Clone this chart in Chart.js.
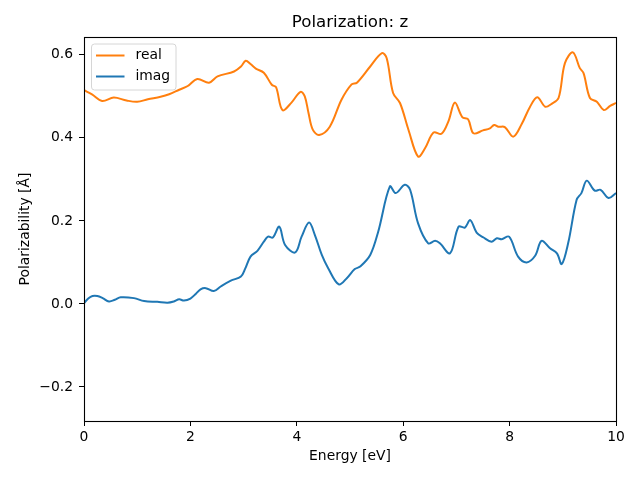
<!DOCTYPE html>
<html>
<head>
<meta charset="utf-8">
<script src="https://cdn.jsdelivr.net/npm/chart.js@4"></script>
<style>
  html, body { margin: 0; padding: 0; background: #fff; }
  #wrap { width: 640px; height: 480px; }
</style>
</head>
<body>
<div id="wrap"><canvas id="c" width="640" height="480"></canvas></div>
<script>
const titleText = 'Polarization: z';
const xLabel = 'Energy [eV]';
const yLabel = 'Polarizability [Å]';
const seriesNames = ['real', 'imag'];
const xTicks = [0, 2, 4, 6, 8, 10];
const yTicks = [-0.2, 0.0, 0.2, 0.4, 0.6];

const realE = [0, 0.15, 0.34, 0.56, 0.8, 1.0, 1.2, 1.44, 1.6, 1.79, 1.95, 2.13, 2.35, 2.51, 2.82, 2.95, 3.04, 3.13, 3.23, 3.38, 3.53, 3.61, 3.73, 3.9, 4.07, 4.15, 4.22, 4.3, 4.42, 4.62, 4.84, 5.03, 5.13, 5.38, 5.6, 5.69, 5.81, 5.94, 6.1, 6.28, 6.41, 6.57, 6.72, 6.85, 6.97, 7.11, 7.22, 7.32, 7.5, 7.63, 7.71, 7.79, 7.91, 8.07, 8.23, 8.38, 8.52, 8.67, 8.79, 8.92, 9.04, 9.19, 9.32, 9.39, 9.51, 9.64, 9.77, 9.89, 10.0];
const realV = [0.515, 0.505, 0.489, 0.497, 0.49, 0.487, 0.493, 0.499, 0.505, 0.516, 0.525, 0.542, 0.533, 0.548, 0.56, 0.572, 0.586, 0.578, 0.567, 0.557, 0.528, 0.522, 0.467, 0.485, 0.511, 0.5, 0.46, 0.42, 0.407, 0.427, 0.492, 0.529, 0.533, 0.572, 0.604, 0.592, 0.508, 0.484, 0.419, 0.355, 0.375, 0.413, 0.41, 0.44, 0.485, 0.45, 0.445, 0.411, 0.418, 0.423, 0.431, 0.427, 0.426, 0.403, 0.434, 0.474, 0.498, 0.475, 0.482, 0.496, 0.58, 0.606, 0.568, 0.556, 0.496, 0.487, 0.467, 0.477, 0.484];

const imagE = [0, 0.08, 0.16, 0.25, 0.35, 0.47, 0.58, 0.69, 0.94, 1.13, 1.38, 1.57, 1.69, 1.79, 1.88, 2.0, 2.1, 2.19, 2.29, 2.44, 2.57, 2.76, 2.95, 3.03, 3.13, 3.26, 3.38, 3.46, 3.55, 3.67, 3.78, 3.97, 4.09, 4.23, 4.34, 4.47, 4.59, 4.79, 4.94, 5.09, 5.19, 5.38, 5.53, 5.75, 5.86, 6.03, 6.13, 6.28, 6.47, 6.6, 6.69, 6.88, 7.04, 7.16, 7.26, 7.38, 7.51, 7.66, 7.76, 7.85, 7.99, 8.16, 8.32, 8.48, 8.6, 8.76, 8.89, 8.98, 9.1, 9.26, 9.35, 9.45, 9.6, 9.71, 9.86, 10.0];
const imagV = [0.002, 0.013, 0.019, 0.019, 0.014, 0.006, 0.01, 0.016, 0.014, 0.007, 0.005, 0.003, 0.006, 0.011, 0.008, 0.013, 0.024, 0.035, 0.038, 0.031, 0.042, 0.056, 0.066, 0.085, 0.114, 0.128, 0.15, 0.162, 0.16, 0.186, 0.142, 0.124, 0.162, 0.196, 0.166, 0.118, 0.086, 0.047, 0.062, 0.084, 0.09, 0.118, 0.174, 0.283, 0.267, 0.287, 0.275, 0.194, 0.146, 0.152, 0.146, 0.122, 0.186, 0.184, 0.202, 0.172, 0.16, 0.15, 0.158, 0.156, 0.162, 0.114, 0.1, 0.116, 0.152, 0.134, 0.122, 0.096, 0.146, 0.251, 0.267, 0.297, 0.273, 0.275, 0.255, 0.267];

const colors = ['#ff7f0e', '#1f77b4'];
const FONT = 'DejaVu Sans';
const fs = 13.89;

const toPts = (xs, ys) => xs.map((x, i) => ({ x: x, y: ys[i] }));

const frameAndLegend = {
  id: 'frameAndLegend',
  afterDraw(chart) {
    const ctx = chart.ctx;
    const a = chart.chartArea;
    ctx.save();
    // axes frame
    ctx.strokeStyle = '#000';
    ctx.lineWidth = 1.1;
    ctx.strokeRect(Math.round(a.left) + 0.5, Math.round(a.top) + 0.5,
                   Math.round(a.right - a.left), Math.round(a.bottom - a.top));
    // legend
    const bx = a.left + 7.5, by = a.top + 7, bw = 84.5, bh = 46, r = 3;
    ctx.beginPath();
    ctx.moveTo(bx + r, by);
    ctx.lineTo(bx + bw - r, by);
    ctx.arcTo(bx + bw, by, bx + bw, by + r, r);
    ctx.lineTo(bx + bw, by + bh - r);
    ctx.arcTo(bx + bw, by + bh, bx + bw - r, by + bh, r);
    ctx.lineTo(bx + r, by + bh);
    ctx.arcTo(bx, by + bh, bx, by + bh - r, r);
    ctx.lineTo(bx, by + r);
    ctx.arcTo(bx, by, bx + r, by, r);
    ctx.closePath();
    ctx.fillStyle = 'rgba(255,255,255,0.8)';
    ctx.fill();
    ctx.strokeStyle = '#d6d6d6';
    ctx.lineWidth = 1;
    ctx.stroke();
    ctx.font = fs + 'px "' + FONT + '"';
    ctx.textBaseline = 'middle';
    ctx.textAlign = 'left';
    chart.data.datasets.forEach((ds, i) => {
      const y = by + 11.5 + i * 21;
      ctx.strokeStyle = ds.borderColor;
      ctx.lineWidth = 2;
      ctx.beginPath();
      ctx.moveTo(bx + 4.5, y);
      ctx.lineTo(bx + 33, y);
      ctx.stroke();
      ctx.fillStyle = '#000';
      ctx.fillText(ds.label, bx + 44, y);
    });
    ctx.restore();
  }
};

const fmt = v => (v < 0 ? '\u2212' : '') + Math.abs(v).toFixed(1);

new Chart(document.getElementById('c'), {
  type: 'line',
  data: {
    datasets: [
      { label: seriesNames[0], data: toPts(realE, realV), borderColor: colors[0], backgroundColor: colors[0], borderWidth: 2, pointRadius: 0, tension: 0.35, fill: false },
      { label: seriesNames[1], data: toPts(imagE, imagV), borderColor: colors[1], backgroundColor: colors[1], borderWidth: 2, pointRadius: 0, tension: 0.35, fill: false }
    ]
  },
  options: {
    responsive: false,
    animation: false,
    layout: { padding: { left: 0, right: 24, top: 0, bottom: 0 } },
    plugins: {
      legend: { display: false },
      tooltip: { enabled: false },
      title: {
        display: true, text: titleText, color: '#000', fullSize: false,
        font: { family: FONT, size: 16.67, weight: 'normal', lineHeight: 1.2 },
        padding: { top: 13, bottom: 4 }
      }
    },
    scales: {
      x: {
        type: 'linear', min: 0, max: 10,
        afterBuildTicks: s => { s.ticks = xTicks.map(v => ({ value: v })); },
        afterFit: s => { s.height = 59; },
        grid: { drawOnChartArea: false, drawTicks: true, tickLength: 5, color: '#000', lineWidth: 1 },
        border: { display: false },
        ticks: { color: '#000', padding: 3, maxRotation: 0, font: { family: FONT, size: fs }, callback: v => String(v) },
        title: { display: true, text: xLabel, color: '#000', font: { family: FONT, size: fs }, padding: { top: 0, bottom: 15 } }
      },
      y: {
        type: 'linear', min: -0.282, max: 0.643,
        afterBuildTicks: s => { s.ticks = yTicks.map(v => ({ value: v })); },
        afterFit: s => { s.width = 84; },
        grid: { drawOnChartArea: false, drawTicks: true, tickLength: 5, color: '#000', lineWidth: 1 },
        border: { display: false },
        ticks: { color: '#000', padding: 6, font: { family: FONT, size: fs }, callback: v => fmt(v) },
        title: { display: true, text: yLabel, color: '#000', font: { family: FONT, size: fs }, padding: { top: 17, bottom: 0 } }
      }
    }
  },
  plugins: [frameAndLegend]
});
</script>
</body>
</html>
